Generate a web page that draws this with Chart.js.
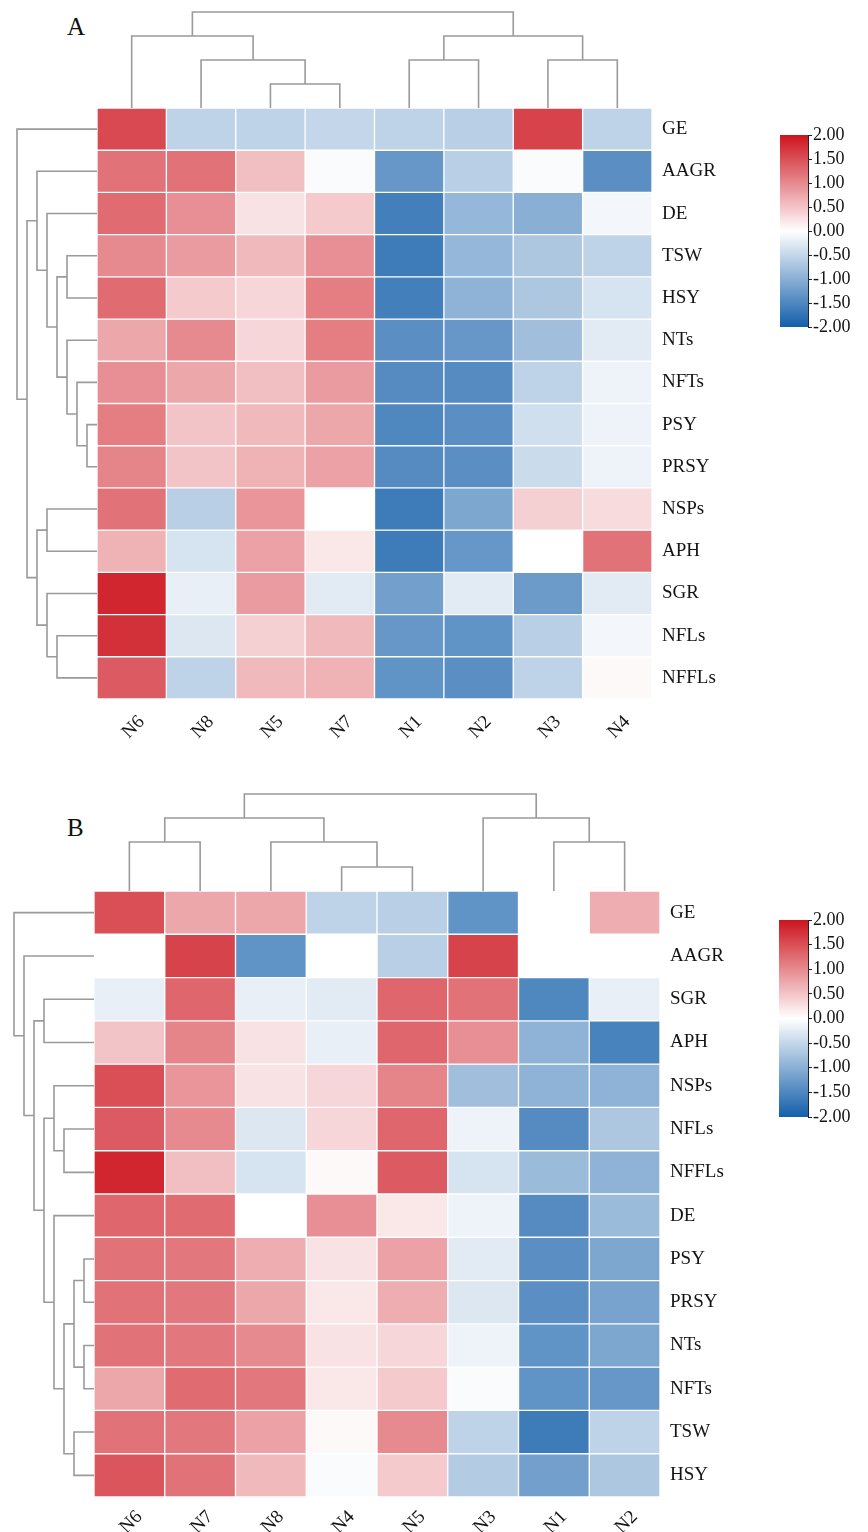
<!DOCTYPE html>
<html>
<head>
<meta charset="utf-8">
<script src="https://cdn.jsdelivr.net/npm/chart.js@4.4.1/dist/chart.umd.min.js"></script>
<style>
  html, body { margin: 0; padding: 0; background: #ffffff; }
  body { width: 868px; height: 1532px; position: relative; overflow: hidden; }
  canvas { position: absolute; }
  .tag { position: absolute; font-family: 'Liberation Serif', serif; font-size: 25px; line-height: 25px; color: #111; }
</style>
</head>
<body>
<div class="tag" style="left:67px; top:14px;">A</div>
<div class="tag" style="left:67px; top:815px;">B</div>
<canvas id="heatA" width="760" height="790" style="left:0px; top:0px;"></canvas>
<canvas id="legendA" width="100" height="235" style="left:768px; top:120px;"></canvas>
<canvas id="heatB" width="760" height="752" style="left:0px; top:780px;"></canvas>
<canvas id="legendB" width="100" height="235" style="left:768px; top:905px;"></canvas>
<script>
// ---------------- data: panel A ----------------
const colsA = ['N6', 'N8', 'N5', 'N7', 'N1', 'N2', 'N3', 'N4'];
const rowsA = ['GE', 'AAGR', 'DE', 'TSW', 'HSY', 'NTs', 'NFTs', 'PSY', 'PRSY', 'NSPs', 'APH', 'SGR', 'NFLs', 'NFFLs'];
const valuesA = [
  [ 1.55, -0.55, -0.55, -0.50, -0.55, -0.60,  1.60, -0.55],
  [ 1.20,  1.20,  0.55, -0.05, -1.30, -0.60, -0.05, -1.40],
  [ 1.25,  0.95,  0.25,  0.45, -1.60, -0.90, -1.00, -0.10],
  [ 1.00,  0.85,  0.60,  0.95, -1.65, -0.90, -0.70, -0.55],
  [ 1.25,  0.45,  0.35,  1.10, -1.60, -0.95, -0.70, -0.35],
  [ 0.75,  1.00,  0.35,  1.10, -1.40, -1.30, -0.80, -0.25],
  [ 0.95,  0.75,  0.55,  0.85, -1.45, -1.45, -0.55, -0.15],
  [ 1.10,  0.50,  0.60,  0.75, -1.50, -1.40, -0.40, -0.15],
  [ 1.05,  0.50,  0.65,  0.80, -1.45, -1.40, -0.45, -0.15],
  [ 1.20, -0.60,  0.90,  0.00, -1.65, -1.10,  0.40,  0.30],
  [ 0.65, -0.35,  0.80,  0.20, -1.65, -1.30,  0.00,  1.20],
  [ 1.85, -0.20,  0.85, -0.25, -1.20, -0.25, -1.25, -0.25],
  [ 1.75, -0.30,  0.40,  0.60, -1.30, -1.35, -0.60, -0.10],
  [ 1.40, -0.55,  0.60,  0.65, -1.35, -1.40, -0.55,  0.05]
];
// dendrogram merges: [child a, child b, merge height]; children < n are leaves, >= n earlier merges
const colTreeA = [[2, 3, 24], [1, 8, 48], [0, 9, 72], [4, 5, 48], [6, 7, 48], [11, 12, 72], [10, 13, 96]];
const rowTreeA = [[7, 8, 10], [6, 14, 20], [5, 15, 30], [3, 4, 30], [17, 16, 40], [2, 18, 50], [1, 19, 60],
                  [9, 10, 50], [12, 13, 40], [11, 22, 50], [21, 23, 60], [20, 24, 70], [0, 25, 80]];

// ---------------- data: panel B ----------------
const colsB = ['N6', 'N7', 'N8', 'N4', 'N5', 'N3', 'N1', 'N2'];
const rowsB = ['GE', 'AAGR', 'SGR', 'APH', 'NSPs', 'NFLs', 'NFFLs', 'DE', 'PSY', 'PRSY', 'NTs', 'NFTs', 'TSW', 'HSY'];
const valuesB = [
  [ 1.50,  0.75,  0.75, -0.55, -0.60, -1.35,  0.00,  0.70],
  [ 0.00,  1.60, -1.35,  0.00, -0.60,  1.60,  0.00,  0.00],
  [-0.20,  1.30, -0.20, -0.25,  1.30,  1.20, -1.50, -0.20],
  [ 0.50,  1.05,  0.25, -0.20,  1.30,  0.95, -0.95, -1.55],
  [ 1.50,  0.90,  0.25,  0.35,  1.05, -0.80, -0.95, -0.95],
  [ 1.40,  1.00, -0.30,  0.35,  1.30, -0.15, -1.45, -0.70],
  [ 1.85,  0.55, -0.35,  0.05,  1.40, -0.35, -0.85, -0.95],
  [ 1.30,  1.25,  0.00,  0.95,  0.20, -0.15, -1.45, -0.85],
  [ 1.20,  1.15,  0.70,  0.25,  0.80, -0.25, -1.40, -1.10],
  [ 1.20,  1.15,  0.75,  0.20,  0.70, -0.30, -1.40, -1.15],
  [ 1.20,  1.15,  1.00,  0.25,  0.35, -0.15, -1.35, -1.10],
  [ 0.75,  1.25,  1.15,  0.20,  0.45, -0.05, -1.35, -1.30],
  [ 1.20,  1.15,  0.80,  0.05,  1.00, -0.55, -1.65, -0.55],
  [ 1.45,  1.20,  0.60, -0.05,  0.45, -0.65, -1.20, -0.70]
];
const colTreeB = [[0, 1, 49], [3, 4, 24], [2, 9, 49], [8, 10, 73], [6, 7, 49], [5, 12, 73], [11, 13, 97]];
const rowTreeB = [[2, 3, 50], [5, 6, 30], [4, 15, 40], [8, 9, 10], [10, 11, 10], [17, 18, 20], [12, 13, 20],
                  [19, 20, 30], [7, 21, 40], [16, 22, 50], [14, 23, 60], [1, 24, 70], [0, 25, 80]];

// ---------------- colour bar ----------------
const legendTicks = [2, 1.5, 1, 0.5, 0, -0.5, -1, -1.5, -2];
const legendRange = [-2, 2];

// ---------------- styling ----------------
const FONT = "'Liberation Serif', 'DejaVu Serif', serif";
const TEXT = '#141414';
const LOW = [20, 95, 170], MID = [255, 255, 255], HIGH = [205, 20, 30];
Chart.defaults.font.family = FONT;
Chart.defaults.color = TEXT;

function heatColor(v) {
  const t = Math.max(-1, Math.min(1, v / legendRange[1]));
  const end = t < 0 ? LOW : HIGH;
  const a = Math.abs(t);
  const c = MID.map((m, k) => Math.round(m + (end[k] - m) * a));
  return `rgb(${c[0]},${c[1]},${c[2]})`;
}

function treeLines(tree, n, horizontal) {
  const pos = [], hgt = [];
  for (let i = 0; i < n; i++) { pos.push(i); hgt.push(0); }
  return tree.map(([a, b, h]) => {
    pos.push((pos[a] + pos[b]) / 2); hgt.push(h);
    const pts = [[pos[a], hgt[a]], [pos[a], h], [pos[b], h], [pos[b], hgt[b]]];
    return pts.map(([p, q]) => horizontal ? { x: q, y: p } : { x: p, y: q });
  });
}

function zeroPad(s) { s.paddingTop = 0; s.paddingBottom = 0; s.paddingLeft = 0; s.paddingRight = 0; }

function makeHeat(id, cols, rows, values, colTree, rowTree, L) {
  const datasets = [];
  rows.forEach((r, i) => {
    datasets.push({
      type: 'bar', label: r,
      data: cols.map((c, j) => ({ x: j, y: [i - 0.5, i + 0.5] })),
      backgroundColor: values[i].map(heatColor),
      borderColor: '#ffffff', borderWidth: 1, borderSkipped: false,
      grouped: false, barPercentage: 1, categoryPercentage: 1,
      xAxisID: 'x', yAxisID: 'y', order: 2
    });
  });
  const lineStyle = { type: 'line', borderColor: '#9a9a9a', borderWidth: 1.6, pointRadius: 0,
                      pointHoverRadius: 0, fill: false, tension: 0, order: 1 };
  treeLines(colTree, cols.length, false).forEach(d =>
    datasets.push(Object.assign({}, lineStyle, { data: d, xAxisID: 'x', yAxisID: 'yd' })));
  treeLines(rowTree, rows.length, true).forEach(d =>
    datasets.push(Object.assign({}, lineStyle, { data: d, xAxisID: 'xd', yAxisID: 'y' })));

  const hidden = { display: true, ticks: { display: false }, grid: { display: false, drawTicks: false }, border: { display: false } };
  new Chart(document.getElementById(id), {
    type: 'bar',
    data: { datasets },
    options: {
      responsive: false, animation: false, events: [],
      layout: { padding: { left: L.padL, top: L.padT, right: 0, bottom: 0 } },
      plugins: { legend: { display: false }, tooltip: { enabled: false } },
      scales: {
        xd: Object.assign({}, hidden, {
          type: 'linear', position: 'bottom', stack: 'h', stackWeight: L.xdW, weight: 0,
          offset: false, reverse: true, min: 0, max: L.xdMax,
          afterFit: s => { s.height = L.bottom; zeroPad(s); }
        }),
        x: {
          type: 'linear', position: 'bottom', stack: 'h', stackWeight: L.hmW, weight: 1,
          offset: false, min: -0.5, max: cols.length - 0.5,
          afterBuildTicks: s => { s.ticks = cols.map((c, i) => ({ value: i })); },
          ticks: { callback: v => cols[v], autoSkip: false, minRotation: 45, maxRotation: 45,
                   font: { size: 19 }, color: TEXT, padding: L.labelPad, labelOffset: L.labelShift },
          grid: { display: false, drawTicks: false }, border: { display: false },
          afterFit: s => { s.height = L.bottom; zeroPad(s); }
        },
        yd: Object.assign({}, hidden, {
          type: 'linear', position: 'right', stack: 'v', stackWeight: L.ydH, weight: 0,
          min: 0, max: L.ydMax,
          afterFit: s => { s.width = L.right; zeroPad(s); }
        }),
        y: {
          type: 'linear', position: 'right', stack: 'v', stackWeight: L.hmH, weight: 1,
          reverse: true, min: -0.5, max: rows.length - 0.5,
          afterBuildTicks: s => { s.ticks = rows.map((r, i) => ({ value: i })); },
          ticks: { callback: v => rows[v], autoSkip: false, font: { size: 19 }, color: TEXT, padding: 10 },
          grid: { display: false, drawTicks: false }, border: { display: false },
          afterFit: s => { s.width = L.right; zeroPad(s); }
        }
      }
    }
  });
}

function makeLegend(id, L) {
  new Chart(document.getElementById(id), {
    type: 'bar',
    data: {
      labels: [''],
      datasets: [{
        data: [legendRange],
        barPercentage: 1, categoryPercentage: 1, borderWidth: 0,
        backgroundColor: (ctx) => {
          const chart = ctx.chart;
          if (!chart.chartArea) return heatColor(0);
          const y = chart.scales.y;
          const g = chart.ctx.createLinearGradient(0, y.getPixelForValue(legendRange[1]), 0, y.getPixelForValue(legendRange[0]));
          const steps = 16;
          for (let k = 0; k <= steps; k++) {
            const v = legendRange[1] - (legendRange[1] - legendRange[0]) * k / steps;
            g.addColorStop(k / steps, heatColor(v));
          }
          return g;
        }
      }]
    },
    options: {
      responsive: false, animation: false, events: [],
      layout: { padding: { left: L.padL, top: L.padT, right: 0, bottom: L.padB } },
      plugins: { legend: { display: false }, tooltip: { enabled: false } },
      scales: {
        x: { display: false },
        y: {
          position: 'right', min: legendRange[0], max: legendRange[1],
          afterBuildTicks: s => { s.ticks = legendTicks.map(v => ({ value: v })); },
          ticks: { callback: v => v.toFixed(2), autoSkip: false, font: { size: 18 }, color: TEXT, padding: 1 },
          grid: { display: true, drawOnChartArea: false, drawTicks: true, tickLength: 4, color: '#222', lineWidth: 1 },
          border: { display: true, color: '#222', width: 1 },
          afterFit: s => { s.width = L.right; zeroPad(s); }
        }
      }
    }
  });
}

makeHeat('heatA', colsA, rowsA, valuesA, colTreeA, rowTreeA, {
  padL: 7, padT: 8, xdW: 90, hmW: 555, ydH: 100, hmH: 591, right: 108, bottom: 91,
  xdMax: 90, ydMax: 100, labelPad: 12, labelShift: 10
});
makeHeat('heatB', colsB, rowsB, valuesB, colTreeB, rowTreeB, {
  padL: 6, padT: 11, xdW: 88, hmW: 566, ydH: 100, hmH: 606, right: 100, bottom: 35,
  xdMax: 88, ydMax: 100, labelPad: 9, labelShift: 10
});
makeLegend('legendA', { padL: 12, padT: 15, padB: 28, right: 60 });
makeLegend('legendB', { padL: 11, padT: 15, padB: 23, right: 60 });
</script>
</body>
</html>
